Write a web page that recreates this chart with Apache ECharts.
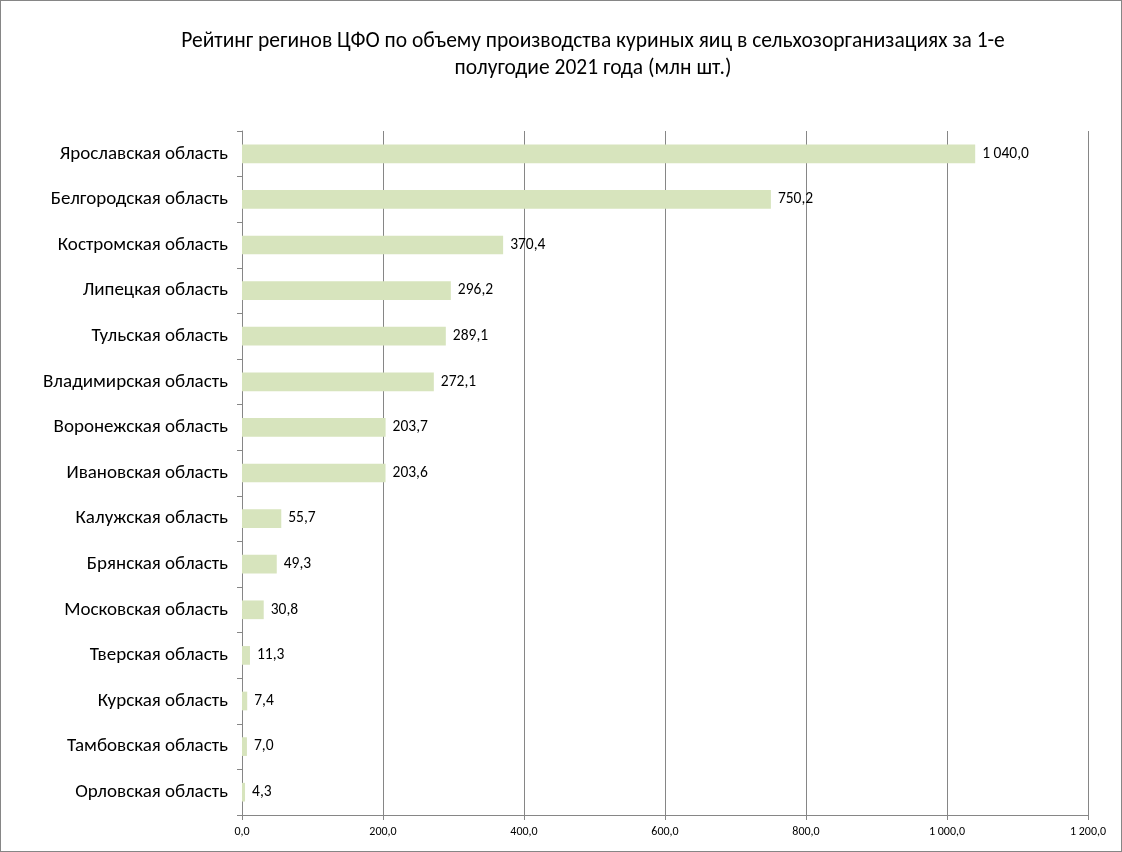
<!DOCTYPE html>
<html><head><meta charset="utf-8">
<script src="https://cdn.jsdelivr.net/npm/echarts@6/dist/echarts.min.js"></script>
<style>
html,body{margin:0;padding:0;background:#fff;}
#wrap{position:absolute;left:0;top:0;width:1120px;height:850px;border:1px solid #868686;}
#c{width:1120px;height:850px;}
</style></head><body>
<div id="wrap"><div id="c"></div></div>
<script>
const categories = ["Ярославская область","Белгородская область","Костромская область","Липецкая область","Тульская область","Владимирская область","Воронежская область","Ивановская область","Калужская область","Брянская область","Московская область","Тверская область","Курская область","Тамбовская область","Орловская область"];
const values = [1040.0,750.2,370.4,296.2,289.1,272.1,203.7,203.6,55.7,49.3,30.8,11.3,7.4,7.0,4.3];
const titleText = "Рейтинг регинов ЦФО по объему производства куриных яиц в сельхозорганизациях за 1-е\nполугодие 2021 года (млн шт.)";

const FONT = 'Carlito, "Liberation Sans Narrow", "Open Sans", sans-serif';
function fmt(v){
  let s = v.toFixed(1).replace('.', ',');
  let [i,d] = s.split(',');
  i = i.replace(/\B(?=(\d{3})+(?!\d))/g, ' ');
  return i + ',' + d;
}
const chart = echarts.init(document.getElementById('c'));
chart.setOption({
  animation:false,
  title:{text:titleText,left:587,top:22,textAlign:'center',textStyle:{fontFamily:FONT,fontSize:21.5,fontWeight:'normal',color:'#000',lineHeight:27}},
  grid:{left:241,right:33,top:130,bottom:36,containLabel:false},
  xAxis:{type:'value',min:0,max:1200,interval:200,
    axisLine:{show:true,lineStyle:{color:'#868686'}},
    axisTick:{show:true,length:5,lineStyle:{color:'#868686'}},
    splitLine:{show:true,lineStyle:{color:'#868686',width:1}},
    axisLabel:{formatter:v=>fmt(v),fontFamily:FONT,fontSize:12,color:'#000',margin:11}},
  yAxis:{type:'category',data:categories,inverse:true,
    axisLine:{show:true,lineStyle:{color:'#868686'}},
    axisTick:{show:true,length:5,lineStyle:{color:'#868686'}},
    axisLabel:{fontFamily:FONT,fontSize:19,color:'#000',margin:14}},
  series:[{type:'bar',data:values,barWidth:'41%',itemStyle:{color:'#D7E4BD'},
    label:{show:true,position:'right',distance:7,formatter:p=>fmt(p.value),fontFamily:FONT,fontSize:15.5,color:'#000'}}]
});
</script>
</body></html>
